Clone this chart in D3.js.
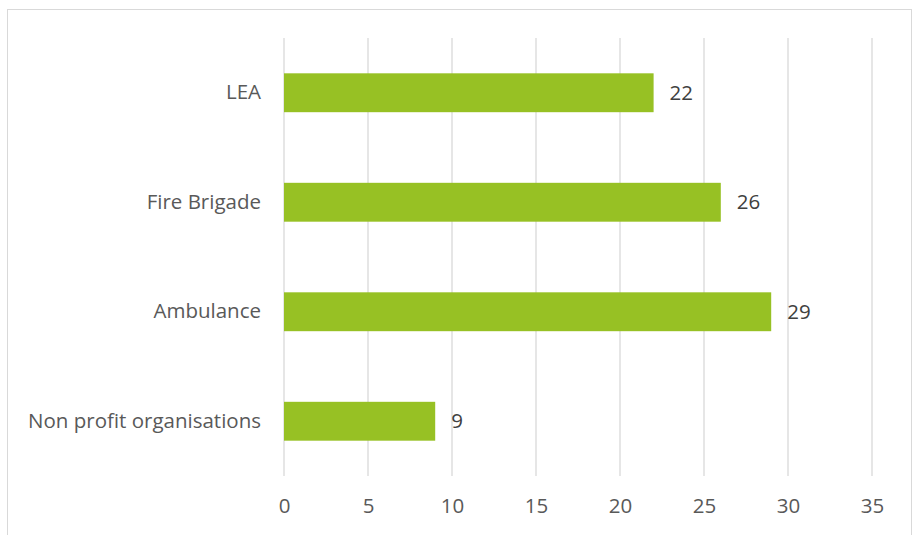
<!DOCTYPE html>
<html><head><meta charset="utf-8">
<script src="https://cdn.jsdelivr.net/npm/d3@7"></script>
<style>body{margin:0;background:#fff}svg{display:block}</style>
</head><body>
<svg id="c" width="913" height="535"></svg>
<script>
const categories = ["LEA", "Fire Brigade", "Ambulance", "Non profit organisations"];
const values = [22, 26, 29, 9];
const ticks = [0, 5, 10, 15, 20, 25, 30, 35];

const svg = d3.select("#c");
const font = "'Open Sans', sans-serif";
const textColor = "#595959";
const fs = 20.5;

svg.append("rect").attr("x", 7.5).attr("y", 9.5).attr("width", 904).attr("height", 540)
  .attr("fill", "#fff").attr("stroke", "#d9d9d9").attr("stroke-width", 1);

const x = d3.scaleLinear().domain([0, 35]).range([284, 872]);
const y = d3.scaleBand().domain(categories).range([38, 476]).paddingInner(0.645).paddingOuter(0.3225);

const grid = svg.append("g");
grid.selectAll("line").data(ticks).join("line")
  .attr("x1", d => x(d)).attr("x2", d => x(d))
  .attr("y1", 38).attr("y2", 476)
  .attr("stroke", "#d9d9d9").attr("stroke-width", 1.3);

const xAxis = svg.append("g").attr("transform", "translate(0,476)")
  .call(d3.axisBottom(x).tickValues(ticks).tickSize(0).tickPadding(22));
xAxis.select(".domain").remove();
xAxis.selectAll("text").attr("font-family", font).attr("font-size", fs).attr("fill", textColor);

const yAxis = svg.append("g").attr("transform", "translate(284,0)")
  .call(d3.axisLeft(y).tickSize(0).tickPadding(23));
yAxis.select(".domain").remove();
yAxis.selectAll("text").attr("font-family", font).attr("font-size", fs).attr("fill", textColor);

svg.append("g").selectAll("rect").data(values).join("rect")
  .attr("x", x(0)).attr("y", (d, i) => y(categories[i]))
  .attr("width", d => x(d) - x(0)).attr("height", y.bandwidth())
  .attr("fill", "#97c124");

svg.append("g").selectAll("text").data(values).join("text")
  .attr("x", d => x(d) + 16).attr("y", (d, i) => y(categories[i]) + y.bandwidth() / 2)
  .attr("dy", "0.35em")
  .attr("font-family", font).attr("font-size", fs).attr("fill", "#404040")
  .text(d => d);
</script>
</body></html>
